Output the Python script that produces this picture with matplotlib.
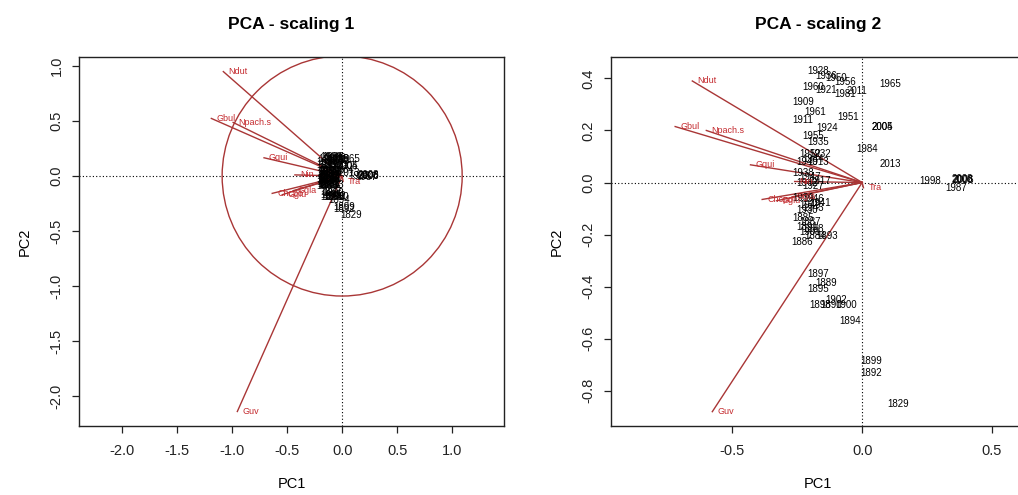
################################################################################
#  PCA biplots, scaling 1 and scaling 2 (R / vegan style)                      #
################################################################################

import matplotlib
matplotlib.use("Agg")
import matplotlib.pyplot as plt
from matplotlib.patches import Circle

plt.rcParams['font.family'] = ['Liberation Sans', 'DejaVu Sans']
plt.rcParams['axes.unicode_minus'] = False


################################################################################
#  DATA  (scores)                                 #
################################################################################

site_years = ["1928", "1936", "1950", "1956", "1965", "1960", "1921", "2011",
              "1981", "1909", "1961", "1911", "1951", "2005", "2004", "1924",
              "1955", "1935", "1984", "2013", "1998", "2000", "2006", "2008",
              "1987", "1952", "1932", "1944", "1940", "1913", "1938", "1947",
              "1917", "1942", "1927", "1939", "1946", "1941", "1949", "1943",
              "1930", "1885", "1887", "1891", "1888", "1884", "1901", "1893",
              "1886", "1897", "1889", "1895", "1902", "1898", "1890", "1900",
              "1894", "1899", "1892", "1829"]
site_pc1 = [-0.17, -0.14, -0.10, -0.065, 0.108, -0.19, -0.14, -0.02,
            -0.065, -0.227, -0.18, -0.227, -0.054, 0.077, 0.079, -0.135,
            -0.19, -0.17, 0.02, 0.108, 0.26, 0.385, 0.39, 0.387,
            0.36, -0.20, -0.16, -0.19, -0.21, -0.17, -0.227, -0.20,
            -0.16, -0.21, -0.19, -0.227, -0.19, -0.16, -0.20, -0.19,
            -0.21, -0.227, -0.20, -0.21, -0.19, -0.18, -0.20, -0.135,
            -0.23, -0.17, -0.14, -0.17, -0.10, -0.16, -0.12, -0.06,
            -0.046, 0.035, 0.035, 0.14]
site_pc2 = [0.427, 0.41, 0.40, 0.385, 0.38, 0.365, 0.357, 0.35,
            0.34, 0.31, 0.27, 0.24, 0.25, 0.215, 0.214, 0.21,
            0.177, 0.154, 0.127, 0.07, 0.004, 0.01, 0.01, 0.012,
            -0.02, 0.108, 0.108, 0.092, 0.08, 0.077, 0.038, 0.023,
            0.004, 0.0, -0.015, -0.058, -0.065, -0.077, -0.085, -0.096,
            -0.104, -0.135, -0.15, -0.17, -0.18, -0.207, -0.19, -0.205,
            -0.23, -0.35, -0.385, -0.41, -0.45, -0.47, -0.47, -0.47,
            -0.53, -0.685, -0.73, -0.85]

species = ["Ndut", "Gbul", "Npach.s", "Gqui", "Nin", "Chcpo", "Gglu",
           "Ggla", "Guv", "Tra"]
species_pc1 = [-0.654, -0.72, -0.60, -0.43, -0.26, -0.385, -0.33, -0.27,
               -0.577, 0.005]
species_pc2 = [0.39, 0.215, 0.20, 0.068, 0.004, -0.065, -0.07, -0.055,
               -0.88, -0.02]

# stretch of PC1 / PC2 between the two scalings (ratio of the arrow tips)
stretch_pc1 = 1.65
stretch_pc2 = 2.43

# equilibrium contribution circle of the scaling 1 plot
circle_radius = 1.09

left_ticks = [-2.0, -1.5, -1.0, -0.5, 0.0, 0.5, 1.0]
right_xticks = [-0.5, 0.0, 0.5]
right_yticks = [-0.8, -0.6, -0.4, -0.2, 0.0, 0.2, 0.4]


################################################################################
#  FUNCTIONS                                                                   #
################################################################################

LINE_RED = '#A93636'
TEXT_RED = '#C42A2E'


"""
Draws one biplot: zero lines, species arrows with labels, site year labels.
"""
def draw_biplot(ax, sx, sy, px, py, title, xlim, ylim, xticks, yticks):
    ax.set_xlim(*xlim)
    ax.set_ylim(*ylim)
    ax.axhline(0, color='black', lw=0.8, ls=(0, (1, 2)), zorder=1)
    ax.axvline(0, color='black', lw=0.8, ls=(0, (1, 2)), zorder=1)

    for name, x, y in zip(species, px, py):
        ax.plot([0, x], [0, y], color=LINE_RED, lw=1.0, zorder=2)
        ax.annotate(name, (x, y), xytext=(3.5, 0), textcoords='offset points',
                    ha='left', va='center', fontsize=6.5, color=TEXT_RED,
                    zorder=4)

    for yr, x, y in zip(site_years, sx, sy):
        ax.text(x, y, yr, ha='center', va='center', fontsize=7,
                color='black', zorder=3)

    ax.set_xticks(xticks)
    ax.set_xticklabels([f"{t:.1f}" for t in xticks])
    ax.set_yticks(yticks)
    ax.set_yticklabels([f"{t:.1f}" for t in yticks], rotation=90,
                       va='center')
    ax.tick_params(direction='out', length=5, width=0.9, labelsize=10.5,
                   colors='#222222')
    ax.tick_params(axis='x', pad=8)
    ax.tick_params(axis='y', pad=6)
    for sp in ax.spines.values():
        sp.set_linewidth(1.0)
        sp.set_color('#222222')

    ax.set_title(title, fontsize=12.5, fontweight='bold', pad=20)
    ax.set_xlabel("PC1", fontsize=10.5, labelpad=14)
    ax.set_ylabel("PC2", fontsize=10.5, labelpad=13)


################################################################################
#  MAIN                                                                        #
################################################################################

if __name__ == "__main__":

    fig = plt.figure(figsize=(10.18, 4.95), dpi=100)
    ax1 = fig.add_axes([0.0776, 0.1394, 0.4175, 0.7454])
    ax2 = fig.add_axes([0.6002, 0.1394, 0.4067, 0.7454])

    # scaling 1: sites shrink, species stretch
    s1_sx = [x / stretch_pc1 for x in site_pc1]
    s1_sy = [y / stretch_pc2 for y in site_pc2]
    s1_px = [x * stretch_pc1 for x in species_pc1]
    s1_py = [y * stretch_pc2 for y in species_pc2]

    draw_biplot(ax1, s1_sx, s1_sy, s1_px, s1_py, "PCA - scaling 1",
                (-2.39, 1.47), (-2.27, 1.08), left_ticks, left_ticks)
    ax1.add_patch(Circle((0, 0), circle_radius, fill=False, color=LINE_RED,
                         lw=1.0, zorder=2))

    draw_biplot(ax2, site_pc1, site_pc2, species_pc1, species_pc2,
                "PCA - scaling 2", (-0.967, 0.627), (-0.935, 0.482),
                right_xticks, right_yticks)

    fig.savefig("out.png", dpi=100)
